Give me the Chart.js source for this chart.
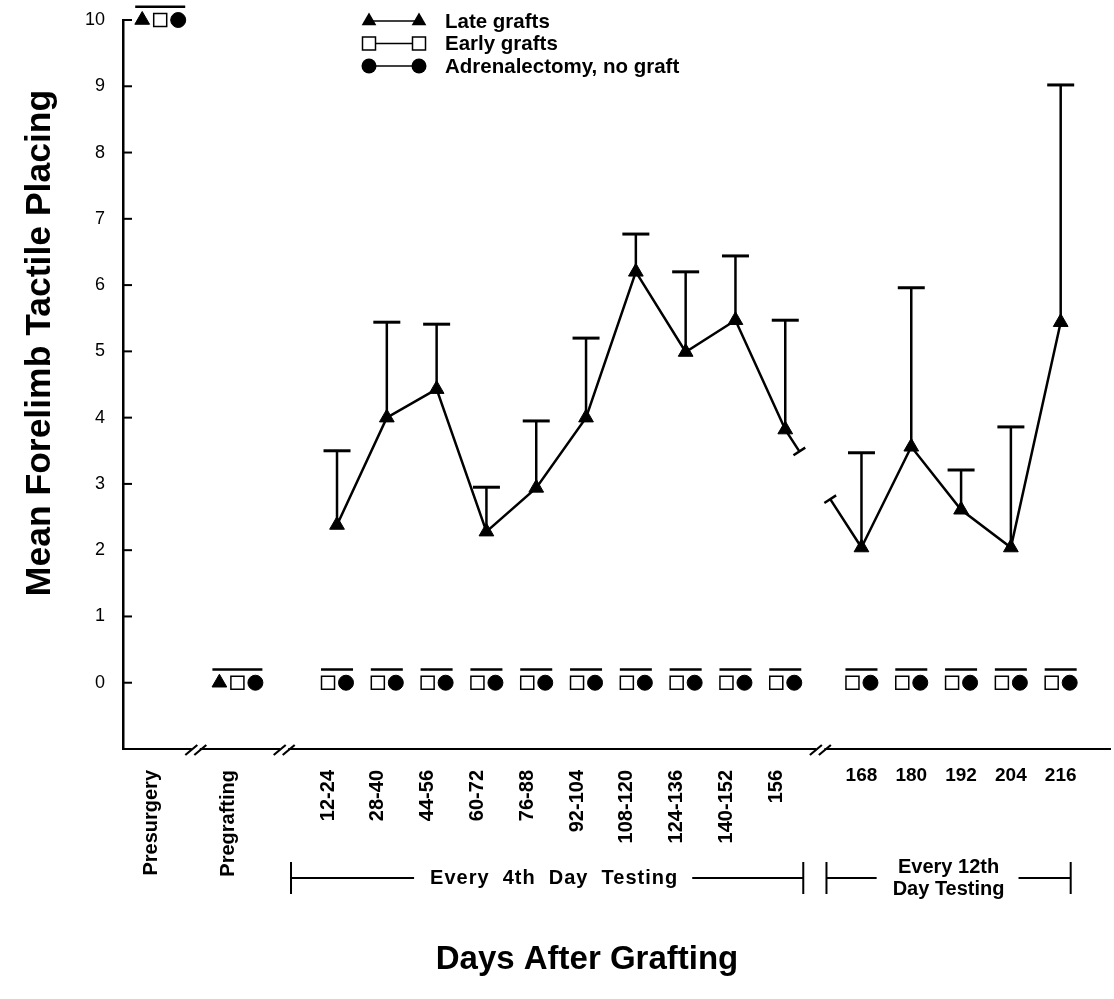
<!DOCTYPE html>
<html>
<head>
<meta charset="utf-8">
<script src="https://cdn.jsdelivr.net/npm/chart.js@4.4.1/dist/chart.umd.min.js"></script>
<style>
html,body{margin:0;padding:0;background:#fff;}
#wrap{width:1114px;height:999px;position:relative;}
</style>
</head>
<body>
<div id="wrap"><canvas id="c" width="1114" height="999"></canvas></div>
<script>
// ---------------- DATA ----------------
const categories = ['Presurgery','Pregrafting','12-24','28-40','44-56','60-72','76-88','92-104','108-120','124-136','140-152','156','168','180','192','204','216'];
const phases = ['Presurgery','Pregrafting',
  'Every 4th Day','Every 4th Day','Every 4th Day','Every 4th Day','Every 4th Day',
  'Every 4th Day','Every 4th Day','Every 4th Day','Every 4th Day','Every 4th Day',
  'Every 12th Day','Every 12th Day','Every 12th Day','Every 12th Day','Every 12th Day'];
const testingPhases = ['Every 4th Day','Every 12th Day'];
const seriesNames = ['Late grafts','Early grafts','Adrenalectomy, no graft'];

const lateGrafts        = [10, 0, 2.38, 4.00, 4.43, 2.28, 2.94, 4.00, 6.20, 4.99, 5.47, 3.82, 2.04, 3.56, 2.61, 2.04, 5.44];
const lateGraftsUpper   = [10.2, 0.2, 3.50, 5.44, 5.41, 2.95, 3.95, 5.20, 6.77, 6.20, 6.44, 5.47, 3.47, 5.96, 3.21, 3.86, 9.02];
const earlyGrafts       = [10, 0, 0, 0, 0, 0, 0, 0, 0, 0, 0, 0, 0, 0, 0, 0, 0];
const earlyGraftsUpper  = [10.2, 0.2, 0.2, 0.2, 0.2, 0.2, 0.2, 0.2, 0.2, 0.2, 0.2, 0.2, 0.2, 0.2, 0.2, 0.2, 0.2];
const adrenalectomy      = [10, 0, 0, 0, 0, 0, 0, 0, 0, 0, 0, 0, 0, 0, 0, 0, 0];
const adrenalectomyUpper = [10.2, 0.2, 0.2, 0.2, 0.2, 0.2, 0.2, 0.2, 0.2, 0.2, 0.2, 0.2, 0.2, 0.2, 0.2, 0.2, 0.2];

const yTicks = [0,1,2,3,4,5,6,7,8,9,10];
const bracketTexts = { 'Every 4th Day': ['Every  4th  Day  Testing'], 'Every 12th Day': ['Every 12th', 'Day Testing'] };
const yTitle = 'Mean Forelimb Tactile Placing';
const xTitle = 'Days After Grafting';

// ---------------- LAYOUT / STYLE ----------------
const FONT = "'Liberation Sans', Arial, Helvetica, sans-serif";
Chart.defaults.font.family = FONT;
Chart.defaults.color = '#000';
const phaseGaps = [1.55, 2.0, 1.53];        // axis units between phase sections (axis breaks)
const X_MIN = -0.747, X_MAX = 19.07;
const DODGE = 18, CAP_W = 27, GROUP_CAP_PAD = 7;

const xPos = (() => {
  const out = []; let acc = 0, g = 0;
  categories.forEach((c, i) => {
    if (i > 0) acc += (phases[i] !== phases[i - 1]) ? phaseGaps[g++] : 1;
    out.push(acc);
  });
  return out;
})();
const rotatedIdx = categories.map((c, i) => i).filter(i => phases[i] !== 'Every 12th Day');
const flatIdx = categories.map((c, i) => i).filter(i => phases[i] === 'Every 12th Day');
const toPts = arr => arr.map((v, i) => ({ x: xPos[i], y: v }));
const noPad = s => { s.paddingTop = 0; s.paddingBottom = 0; s.paddingLeft = 0; s.paddingRight = 0; };

// ---------------- PLUGINS ----------------
const dodgePlugin = {
  id: 'dodge',
  afterDatasetsUpdate(chart) {
    const xs = chart.scales.x;
    const groups = [];
    for (let i = 0; i < categories.length; i++) {
      const pts = [];
      chart.data.datasets.forEach((ds, di) => {
        const meta = chart.getDatasetMeta(di);
        const el = meta.data[i];
        if (!el || ds.data[i].y == null) return;
        pts.push({ el, v: ds.data[i].y, up: ds.upper[i], di });
      });
      const byVal = new Map();
      pts.forEach(p => { if (!byVal.has(p.v)) byVal.set(p.v, []); byVal.get(p.v).push(p); });
      const base = xs.getPixelForValue(xPos[i]);
      byVal.forEach(g => {
        g.forEach((p, k) => { p.el.x = base + (k - (g.length - 1) / 2) * DODGE; });
        groups.push(g);
      });
    }
    chart.$groups = groups;
  },
  beforeDatasetsDraw(chart) {
    const ctx = chart.ctx, ys = chart.scales.y;
    ctx.save();
    ctx.strokeStyle = '#000';
    (chart.$groups || []).forEach(g => {
      const up = g[0].up;
      if (up == null) return;
      const yUp = ys.getPixelForValue(up);
      if (g.length > 1) {
        const xsArr = g.map(p => p.el.x);
        ctx.lineWidth = 2.5;
        ctx.beginPath();
        ctx.moveTo(Math.min(...xsArr) - GROUP_CAP_PAD, yUp);
        ctx.lineTo(Math.max(...xsArr) + GROUP_CAP_PAD, yUp);
        ctx.stroke();
      } else {
        const el = g[0].el;
        ctx.lineWidth = 2.5;
        ctx.beginPath();
        ctx.moveTo(el.x, el.y); ctx.lineTo(el.x, yUp);
        ctx.stroke();
        ctx.lineWidth = 3;
        ctx.beginPath();
        ctx.moveTo(el.x - CAP_W / 2, yUp); ctx.lineTo(el.x + CAP_W / 2, yUp);
        ctx.stroke();
      }
    });
    ctx.restore();
  },
  afterDatasetsDraw(chart) {
    // broken connection between testing phases
    const ctx = chart.ctx, meta = chart.getDatasetMeta(0);
    ctx.save();
    ctx.strokeStyle = '#000'; ctx.lineWidth = 2.5; ctx.lineCap = 'butt';
    for (let i = 1; i < categories.length; i++) {
      if (phases[i] === phases[i - 1]) continue;
      if (!testingPhases.includes(phases[i]) || !testingPhases.includes(phases[i - 1])) continue;
      const a = meta.data[i - 1], b = meta.data[i];
      const dx = b.x - a.x, dy = b.y - a.y, L = Math.hypot(dx, dy);
      const nx = -dy / L, ny = dx / L;
      const e1 = { x: a.x + dx * 0.185, y: a.y + dy * 0.185 };
      const e2 = { x: a.x + dx * 0.59, y: a.y + dy * 0.59 };
      ctx.beginPath();
      ctx.moveTo(a.x, a.y); ctx.lineTo(e1.x, e1.y);
      ctx.moveTo(e2.x, e2.y); ctx.lineTo(b.x, b.y);
      [e1, e2].forEach(e => { ctx.moveTo(e.x - nx * 7, e.y - ny * 7); ctx.lineTo(e.x + nx * 7, e.y + ny * 7); });
      ctx.stroke();
    }
    ctx.restore();
  },
  afterDraw(chart) {
    const ctx = chart.ctx, xs = chart.scales.x, ys = chart.scales.y, ca = chart.chartArea;
    ctx.save();
    ctx.strokeStyle = '#000'; ctx.fillStyle = '#000';
    // inward y ticks
    ctx.lineWidth = 2;
    yTicks.forEach(v => {
      const y = ys.getPixelForValue(v);
      ctx.beginPath(); ctx.moveTo(ca.left, y); ctx.lineTo(ca.left + 9, y); ctx.stroke();
    });
    // x-axis breaks
    for (let i = 1; i < categories.length; i++) {
      if (phases[i] === phases[i - 1]) continue;
      const bc = xs.getPixelForValue((xPos[i] + xPos[i - 1]) / 2) - 3;
      const yb = ca.bottom;
      ctx.fillStyle = '#fff';
      ctx.fillRect(bc - 4, yb - 2.5, 8, 5);
      ctx.lineWidth = 2.2;
      ctx.beginPath();
      [-4.5, 4.5].forEach(o => { ctx.moveTo(bc + o - 6, yb + 6); ctx.lineTo(bc + o + 6, yb - 4); });
      ctx.stroke();
    }
    ctx.fillStyle = '#000';
    // phase brackets
    const brk = (ph, padL, padR, cxOff) => {
      const idx = categories.map((c, i) => i).filter(i => phases[i] === ph);
      const l = xs.getPixelForValue(xPos[idx[0]]) - padL;
      const r = xs.getPixelForValue(xPos[idx[idx.length - 1]]) + padR;
      const lines = bracketTexts[ph];
      const cy = 878, cx = (l + r) / 2 + cxOff;
      ctx.font = 'bold 20px ' + FONT;
      ctx.letterSpacing = lines.length === 1 ? '1px' : '0px';
      const w = Math.max(...lines.map(t => ctx.measureText(t).width));
      ctx.textAlign = 'center'; ctx.textBaseline = 'middle';
      lines.forEach((t, k) => ctx.fillText(t, cx, cy + (k - (lines.length - 1) / 2) * 22));
      ctx.letterSpacing = '0px';
      ctx.lineWidth = 2;
      ctx.beginPath();
      ctx.moveTo(l, cy - 16); ctx.lineTo(l, cy + 16);
      ctx.moveTo(r, cy - 16); ctx.lineTo(r, cy + 16);
      ctx.moveTo(l, cy); ctx.lineTo(cx - w / 2 - 16, cy);
      ctx.moveTo(cx + w / 2 + 14, cy); ctx.lineTo(r, cy);
      ctx.stroke();
    };
    brk('Every 4th Day', 46, 18, 7);
    brk('Every 12th Day', 35, 10, 0);
    // axis titles
    ctx.font = 'bold 33px ' + FONT;
    ctx.textAlign = 'center'; ctx.textBaseline = 'middle';
    ctx.fillText(xTitle, 587, 960);
    ctx.save();
    ctx.translate(40, 343); ctx.rotate(-Math.PI / 2);
    ctx.font = 'bold 35.5px ' + FONT;
    ctx.fillText(yTitle, 0, 0);
    ctx.restore();
    // legend
    const rows = [21, 43.5, 66];
    chart.data.datasets.forEach((ds, di) => {
      const y = rows[di];
      ctx.lineWidth = 1.5; ctx.strokeStyle = '#000';
      ctx.beginPath(); ctx.moveTo(369, y); ctx.lineTo(419, y); ctx.stroke();
      [369, 419].forEach(x => drawMarker(ctx, ds.pointStyle, x, y));
      ctx.fillStyle = '#000';
      ctx.font = 'bold 20.5px ' + FONT;
      ctx.textAlign = 'left'; ctx.textBaseline = 'middle';
      ctx.fillText(ds.label, 445, y + 1);
    });
    ctx.restore();
  }
};

function drawMarker(ctx, style, x, y) {
  ctx.save();
  ctx.strokeStyle = '#000'; ctx.fillStyle = '#000'; ctx.lineWidth = 1.5;
  ctx.beginPath();
  if (style === 'triangle') {
    const r = 8.5;
    ctx.moveTo(x, y - r); ctx.lineTo(x + r * 0.866, y + r / 2); ctx.lineTo(x - r * 0.866, y + r / 2); ctx.closePath();
    ctx.fill();
  } else if (style === 'rect') {
    const s = 6.5;
    ctx.fillStyle = '#fff';
    ctx.rect(x - s, y - s, 2 * s, 2 * s); ctx.fill(); ctx.stroke();
  } else {
    ctx.arc(x, y, 7.5, 0, Math.PI * 2); ctx.fill();
  }
  ctx.restore();
}

// ---------------- CHART ----------------
new Chart(document.getElementById('c'), {
  type: 'line',
  data: {
    datasets: [
      {
        label: seriesNames[0], data: toPts(lateGrafts), upper: lateGraftsUpper,
        borderColor: '#000', borderWidth: 2.5, tension: 0, clip: false,
        pointStyle: 'triangle', pointRadius: 8.5, pointBackgroundColor: '#000', pointBorderColor: '#000', pointBorderWidth: 1,
        showLine: true,
        segment: { borderColor: c => phases[c.p0DataIndex] === phases[c.p1DataIndex] ? '#000' : 'rgba(0,0,0,0)' }
      },
      {
        label: seriesNames[1], data: toPts(earlyGrafts), upper: earlyGraftsUpper,
        showLine: false, clip: false,
        pointStyle: 'rect', pointRadius: 9.2, pointBackgroundColor: '#fff', pointBorderColor: '#000', pointBorderWidth: 1.5
      },
      {
        label: seriesNames[2], data: toPts(adrenalectomy), upper: adrenalectomyUpper,
        showLine: false, clip: false,
        pointStyle: 'circle', pointRadius: 7.5, pointBackgroundColor: '#000', pointBorderColor: '#000', pointBorderWidth: 1
      }
    ]
  },
  options: {
    responsive: false, animation: false,
    layout: { autoPadding: false, padding: { top: 20, right: 4, left: 0, bottom: 0 } },
    plugins: { legend: { display: false }, tooltip: { enabled: false } },
    events: [],
    scales: {
      x: {
        type: 'linear', position: 'bottom', min: X_MIN, max: X_MAX,
        afterBuildTicks: s => { s.ticks = rotatedIdx.map(i => ({ value: xPos[i] })); },
        afterFit: s => { s.height = 250; noPad(s); },
        ticks: {
          autoSkip: false, minRotation: 90, maxRotation: 90, padding: 21, labelOffset: -9,
          color: '#000', font: { size: 20, weight: 'bold' },
          callback: (v, i) => categories[rotatedIdx[i]]
        },
        grid: { display: false, drawTicks: false },
        border: { display: true, color: '#000', width: 2 }
      },
      x2: {
        type: 'linear', position: 'bottom', weight: -1, min: X_MIN, max: X_MAX,
        afterBuildTicks: s => { s.ticks = flatIdx.map(i => ({ value: xPos[i] })); },
        afterFit: s => { s.height = 0; noPad(s); },
        ticks: {
          autoSkip: false, minRotation: 0, maxRotation: 0, mirror: true, padding: -38,
          color: '#000', font: { size: 19, weight: 'bold' },
          callback: (v, i) => categories[flatIdx[i]]
        },
        grid: { display: false, drawTicks: false },
        border: { display: false }
      },
      y: {
        min: -1, max: 10,
        afterBuildTicks: s => { s.ticks = yTicks.map(v => ({ value: v })); },
        afterFit: s => { s.width = 123; noPad(s); },
        ticks: { padding: 18, color: '#000', font: { size: 18 } },
        grid: { display: false, drawTicks: false },
        border: { display: true, color: '#000', width: 2.5 }
      }
    }
  },
  plugins: [dodgePlugin]
});
</script>
</body>
</html>
